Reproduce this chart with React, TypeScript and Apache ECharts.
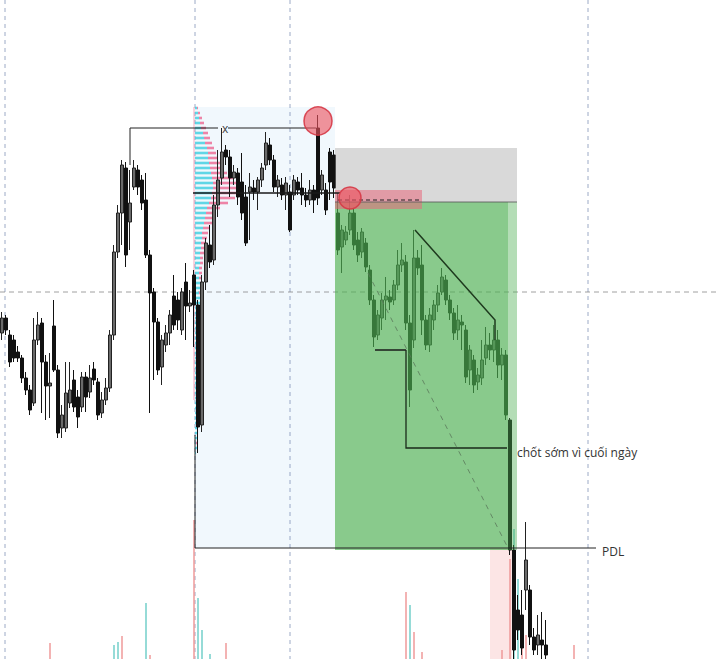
import React, { useEffect, useRef } from 'react';
import * as echarts from 'echarts';

// ---------- DATA ----------
// time slots on the x axis (one candle per slot)
const slotCount = 180;
const slots: string[] = Array.from({ length: slotCount }, (_, i) => String(i));

// candles: [open, close, low, high]
const candles: number[][] = [
  [367, 382, 360, 388], [382, 370, 365, 385], [365, 338, 333, 370], [360, 342, 338, 365],
  [348, 342, 338, 354], [342, 322, 317, 345], [322, 310, 305, 328], [310, 290, 285, 315],
  [297, 360, 294, 382], [360, 375, 355, 388], [377, 338, 287, 382], [338, 314, 280, 345],
  [314, 317, 282, 347], [374, 330, 328, 400], [330, 267, 262, 335], [272, 285, 262, 295],
  [272, 307, 268, 338], [297, 310, 292, 338], [320, 293, 288, 330], [303, 283, 272, 310],
  [293, 323, 288, 328], [323, 303, 288, 328], [308, 322, 302, 335], [331, 320, 315, 338],
  [318, 285, 280, 322], [287, 300, 282, 308], [300, 312, 295, 322], [312, 365, 308, 370],
  [365, 448, 360, 455], [448, 487, 442, 495], [487, 535, 455, 540], [532, 445, 433, 538],
  [478, 497, 450, 530], [513, 532, 510, 540], [530, 513, 505, 535], [520, 497, 490, 525],
  [500, 445, 442, 527], [445, 407, 287, 450], [408, 378, 320, 412], [378, 330, 325, 382],
  [333, 360, 315, 365], [355, 367, 348, 375], [367, 385, 355, 390], [404, 375, 370, 425],
  [400, 380, 370, 408], [370, 408, 365, 412], [418, 394, 360, 437], [394, 397, 388, 410],
  [425, 395, 353, 430], [395, 273, 247, 400], [275, 418, 268, 425], [418, 457, 410, 462],
  [455, 438, 432, 475], [440, 495, 435, 505], [495, 520, 483, 550], [522, 548, 515, 572],
  [550, 543, 535, 555], [543, 522, 503, 550], [522, 528, 515, 535], [527, 503, 495, 532],
  [518, 487, 480, 547], [503, 457, 454, 515], [508, 513, 460, 527], [512, 508, 500, 520],
  [508, 520, 490, 523], [520, 532, 513, 537], [535, 557, 530, 568], [555, 540, 535, 562],
  [540, 513, 508, 545], [513, 520, 503, 525], [515, 505, 500, 522], [505, 517, 490, 523],
  [508, 470, 468, 515], [505, 520, 500, 525], [518, 510, 505, 523], [512, 505, 495, 527],
  [505, 500, 493, 512], [500, 510, 495, 520], [510, 500, 487, 515], [572, 502, 495, 585],
  [510, 525, 505, 530], [510, 490, 485, 517], [548, 518, 500, 552], [545, 512, 502, 550],
  [487, 450, 445, 507], [453, 470, 427, 475], [460, 468, 455, 474], [470, 487, 465, 505],
  [487, 455, 450, 492], [460, 445, 438, 468], [448, 468, 442, 472], [457, 433, 428, 462],
  [430, 400, 395, 435], [400, 363, 353, 405], [365, 385, 360, 390], [382, 400, 370, 407],
  [400, 404, 380, 423], [403, 398, 390, 410], [400, 415, 395, 420], [415, 435, 410, 450],
  [435, 440, 428, 457], [438, 377, 370, 445], [377, 310, 293, 385], [360, 442, 352, 470],
  [442, 432, 425, 450], [435, 380, 365, 455], [380, 355, 350, 385], [355, 385, 348, 392],
  [380, 395, 370, 400], [395, 407, 388, 415], [408, 423, 405, 432], [420, 400, 395, 425],
  [400, 387, 380, 405], [387, 367, 360, 392], [370, 380, 360, 395], [378, 375, 350, 385],
  [370, 323, 317, 375], [330, 350, 315, 355], [340, 315, 307, 345], [318, 325, 310, 332],
  [322, 340, 315, 360], [342, 355, 335, 373], [355, 350, 340, 367], [350, 360, 338, 375],
  [360, 335, 322, 370], [335, 345, 320, 352], [345, 285, 280, 350], [280, 150, 145, 282],
  [150, 50, 38, 155], [90, 70, 60, 105], [85, 52, 45, 110], [110, 140, 90, 178],
  [110, 63, 55, 115], [63, 50, 45, 72], [55, 65, 45, 85], [60, 55, 41, 88],
  [55, 45, 38, 80],
];

// visible volume bars (slot, height, side b=buy s=sell)
const volSlot = [12, 28, 29, 30, 36, 37, 48, 49, 50, 52, 56, 101, 102, 103, 105, 125, 127, 128, 129, 130, 131, 143];
const volHeight = [16, 14, 17, 23, 56, 4, 139, 61, 29, 5, 16, 67, 54, 27, 7, 9, 100, 130, 80, 26, 24, 14];
const volSide = ['s', 'b', 'b', 's', 'b', 's', 's', 'b', 'b', 'b', 's', 's', 'b', 's', 's', 's', 's', 'b', 'b', 's', 's', 's'];

// volume profile rows
const profilePrice = [
  592, 587, 582, 577, 572, 567, 562, 557, 552, 547, 542, 537, 532, 527, 522, 517, 512, 507, 502, 497,
  492, 487, 482, 477, 472, 467, 462, 457, 452, 447, 442, 437, 432, 427, 422, 417, 412, 407, 402, 397,
  392, 387, 382, 377, 372, 367, 362, 357, 352, 347, 342, 337, 332, 327, 322, 317, 312, 307, 302, 297,
  292, 287, 282, 277, 272, 267, 262, 257, 252, 247,
];
const profileBuy = [
  2, 3, 4, 5, 6, 8, 9, 10, 12, 13, 13, 14, 15, 16, 17, 18, 18, 17, 16, 14,
  12, 11, 10, 9, 8, 7, 7, 6, 6, 5, 5, 5, 4, 4, 4, 5, 5, 4, 5, 5,
  4, 5, 4, 5, 4, 4, 5, 4, 4, 4, 4, 4, 3, 4, 3, 4, 3, 3, 3, 3,
  3, 2, 3, 2, 2, 2, 2, 1, 2, 1,
];
const profileSell = [
  1, 2, 3, 4, 5, 5, 6, 7, 7, 8, 10, 11, 13, 16, 21, 24, 26, 26, 24, 19,
  13, 10, 9, 8, 7, 6, 5, 5, 4, 4, 3, 3, 3, 3, 2, 1, 1, 1, 1, 1,
  1, 1, 1, 1, 1, 1, 1, 1, 1, 0, 1, 1, 0, 1, 0, 1, 0, 1, 0, 0,
  1, 0, 1, 0, 1, 0, 0, 1, 0, 0,
];
const profileStart = 48.75;

// zones: [xStart, xEnd, priceTop, priceBottom]
const rangeZone = [[48.75, 83.75, 593, 152]];
const stopZone = [[83.75, 129.25, 552, 498]];
const targetZone = [[83.75, 127, 498, 150]];
const targetEdge = [[127, 129.25, 498, 150]];
const entryZone = [[83.75, 105.5, 510, 491]];
const pdlBand = [[122.5, 128, 152, 41]];

// drawn levels / lines: [x, price]
const gridV1 = [[1.25, 700], [1.25, 41]];
const gridV2 = [[48.75, 700], [48.75, 41]];
const gridV3 = [[72.5, 700], [72.5, 41]];
const gridV4 = [[147, 700], [147, 41]];
const gridH = [[0, 408], [180, 408]];
const highLineA = [[32.5, 535], [32.5, 572], [54.5, 572]];
const highLineB = [[57, 572], [79, 572]];
const pocLine = [[48.25, 507], [85, 507]];
const entryLine = [[83.75, 498], [129.25, 498]];
const entryDash = [[84.5, 500], [105.5, 500]];
const trendLine = [[103.75, 470], [123.75, 380], [123.75, 360]];
const lowLine = [[93.75, 350], [101.5, 350]];
const exitLine = [[101.5, 350], [101.5, 252], [126.75, 252]];
const diagLine = [[92, 427], [127, 152]];
const pdlLine = [[48.75, 265], [48.75, 152], [149, 152]];
const profileEdge = [[48.5, 593], [48.5, 300]];
const sweepHigh = [79.5, 579];
const sweepEntry = [87.5, 502];
const xMark = [55.5, 572];
const noteLabel = [129.25, 248];
const pdlLabel = [150.5, 149];

// ---------- HELPERS ----------
function rectSeries(rows: number[][], fill: string, z: number) {
  return {
    type: 'custom', xAxisIndex: 1, yAxisIndex: 0, z, silent: true, clip: false,
    data: rows, encode: { x: [0, 1], y: [2, 3] },
    renderItem: (_p: any, api: any) => {
      const a = api.coord([api.value(0), api.value(2)]);
      const b = api.coord([api.value(1), api.value(3)]);
      return { type: 'rect', shape: { x: a[0], y: a[1], width: b[0] - a[0], height: b[1] - a[1] }, style: { fill } };
    },
  };
}

function lineSeries(pts: number[][], stroke: string, width: number, dash: number[] | null, z: number) {
  return {
    type: 'custom', xAxisIndex: 1, yAxisIndex: 0, z, silent: true, clip: false,
    data: pts, encode: { x: 0, y: 1 },
    renderItem: (params: any, api: any) => {
      if (params.dataIndex !== 0) return null;
      return {
        type: 'polyline',
        shape: { points: pts.map((p) => api.coord(p)) },
        style: { stroke, lineWidth: width, lineDash: dash || undefined, fill: null },
      };
    },
  };
}

function circleSeries(c: number[], r: number, z: number) {
  return {
    type: 'custom', xAxisIndex: 1, yAxisIndex: 0, z, silent: true, clip: false,
    data: [c], encode: { x: 0, y: 1 },
    renderItem: (_p: any, api: any) => {
      const p = api.coord([api.value(0), api.value(1)]);
      return {
        type: 'circle', shape: { cx: p[0], cy: p[1], r },
        style: { fill: 'rgba(236,84,96,0.62)', stroke: 'rgba(214,56,70,0.9)', lineWidth: 1.5 },
      };
    },
  };
}

function textSeries(pos: number[], text: string, size: number, color: string, z: number) {
  return {
    type: 'custom', xAxisIndex: 1, yAxisIndex: 0, z, silent: true, clip: false,
    data: [pos], encode: { x: 0, y: 1 },
    renderItem: (_p: any, api: any) => {
      const p = api.coord([api.value(0), api.value(1)]);
      return {
        type: 'text', x: p[0], y: p[1],
        style: {
          text, fill: color, fontSize: size, fontFamily: '"Open Sans", "Noto Sans", sans-serif',
          align: 'left', verticalAlign: 'middle', textAlign: 'left', textVerticalAlign: 'middle',
        },
      };
    },
  };
}

export default function App() {
  const ref = useRef<HTMLDivElement>(null);
  useEffect(() => {
    if (!ref.current) return;
    const chart = echarts.init(ref.current, undefined, { renderer: 'svg' });
    const gridColor = 'rgba(115,135,175,0.7)';
    const option: any = {
      animation: false,
      backgroundColor: '#ffffff',
      grid: { left: 0, right: 0, top: 0, bottom: 0, containLabel: false },
      xAxis: [
        { type: 'category', data: slots, show: false, boundaryGap: true },
        { type: 'value', min: 0, max: slotCount, show: false },
      ],
      yAxis: [
        { type: 'value', min: 41, max: 700, show: false, splitLine: { show: false } },
        { type: 'value', min: 0, max: 659, show: false, splitLine: { show: false } },
      ],
      series: [
        rectSeries(rangeZone, 'rgba(215,236,248,0.35)', 1),
        lineSeries(gridV1, gridColor, 1, [4, 4], 2),
        lineSeries(gridV2, gridColor, 1, [4, 4], 2),
        lineSeries(gridV3, gridColor, 1, [4, 4], 2),
        lineSeries(gridV4, gridColor, 1, [4, 4], 2),
        lineSeries(gridH, 'rgba(120,120,120,0.7)', 1, [5, 4], 2),
        rectSeries(pdlBand, 'rgba(245,170,170,0.3)', 2),
        lineSeries(profileEdge, 'rgba(236,130,160,0.7)', 1, null, 3),
        {
          type: 'custom', xAxisIndex: 1, yAxisIndex: 0, z: 3, silent: true, clip: false,
          data: profilePrice.map((p, i) => [p, profileBuy[i], profileSell[i]]),
          encode: { y: 0 },
          renderItem: (_p: any, api: any) => {
            const base = api.coord([profileStart, api.value(0)]);
            const b = api.value(1);
            const s = api.value(2);
            return {
              type: 'group',
              children: [
                { type: 'rect', shape: { x: base[0], y: base[1] - 1.3, width: b, height: 2.6 }, style: { fill: 'rgba(70,208,226,0.85)' } },
                { type: 'rect', shape: { x: base[0] + b, y: base[1] - 1.3, width: s, height: 2.6 }, style: { fill: 'rgba(236,112,152,0.85)' } },
              ],
            };
          },
        },
        {
          type: 'bar', xAxisIndex: 0, yAxisIndex: 1, z: 3, barWidth: 1.6, silent: true,
          data: volSlot.map((s, i) => ({
            value: [s, volHeight[i]],
            itemStyle: { color: volSide[i] === 'b' ? 'rgba(110,205,200,0.9)' : 'rgba(238,150,150,0.9)' },
          })),
        },
        {
          type: 'candlestick', xAxisIndex: 0, yAxisIndex: 0, z: 4, barWidth: 3.2, silent: true,
          data: candles,
          itemStyle: {
            color: '#6a6a6a', color0: '#111111',
            borderColor: '#222222', borderColor0: '#111111', borderWidth: 1,
          },
        },
        rectSeries(stopZone, 'rgba(165,165,165,0.42)', 5),
        rectSeries(targetZone, 'rgba(76,175,80,0.66)', 5),
        rectSeries(targetEdge, 'rgba(76,175,80,0.42)', 5),
        rectSeries(entryZone, 'rgba(232,104,124,0.55)', 6),
        lineSeries(entryLine, 'rgba(90,90,90,0.85)', 1, null, 7),
        lineSeries(entryDash, '#222222', 1.2, [4, 3], 7),
        lineSeries(pocLine, '#1a1a1a', 1.6, null, 7),
        lineSeries(highLineA, '#222222', 1, null, 7),
        lineSeries(highLineB, '#222222', 1, null, 7),
        lineSeries(trendLine, '#1e3a1e', 1.5, null, 7),
        lineSeries(lowLine, '#1a1a1a', 1.5, null, 7),
        lineSeries(exitLine, '#1a2a1a', 1.3, null, 7),
        lineSeries(diagLine, 'rgba(90,120,90,0.8)', 1, [5, 5], 7),
        lineSeries(pdlLine, '#222222', 1, null, 7),
        circleSeries(sweepHigh, 14, 8),
        circleSeries(sweepEntry, 11, 8),
        textSeries(xMark, 'x', 12, '#444444', 9),
        textSeries(noteLabel, 'chốt sớm vì cuối ngày', 12, '#333333', 9),
        textSeries(pdlLabel, 'PDL', 12, '#333333', 9),
      ],
    };
    chart.setOption(option);
    return () => chart.dispose();
  }, []);
  return (
    <div
      ref={ref}
      style={{ position: 'fixed', left: 0, top: 0, width: 720, height: 659, background: '#fff' }}
    />
  );
}
